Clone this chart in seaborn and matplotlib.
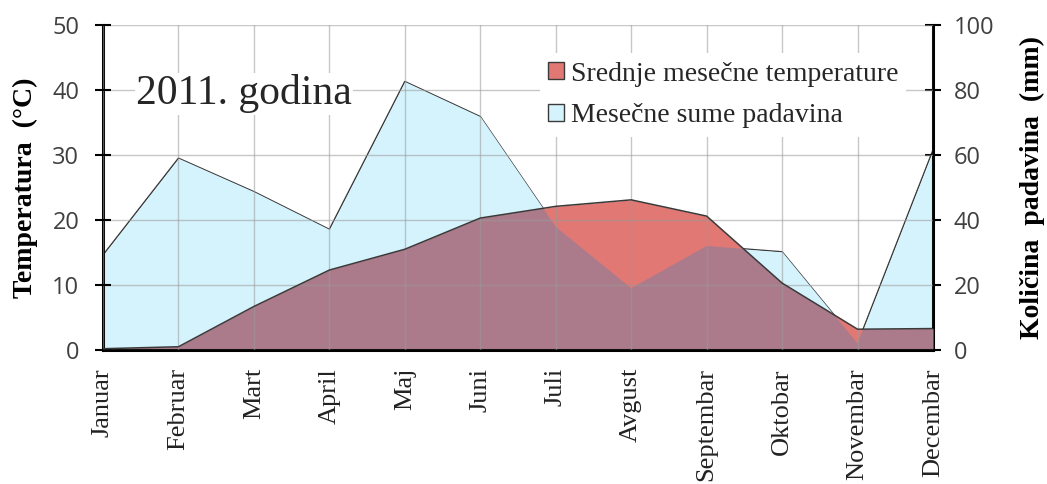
import numpy as np
import pandas as pd
import matplotlib
matplotlib.use("Agg")
import matplotlib.pyplot as plt
from matplotlib.patches import PathPatch, Patch
import seaborn as sns

months = ["Januar", "Februar", "Mart", "April", "Maj", "Juni", "Juli",
          "Avgust", "Septembar", "Oktobar", "Novembar", "Decembar"]
temperature = [0.2, 0.5, 6.7, 12.3, 15.5, 20.3, 22.1, 23.1, 20.6, 10.3, 3.2, 3.3]
precipitation = [29.2, 59.0, 48.7, 37.1, 82.6, 71.8, 37.9, 19.0, 32.0, 30.2, 2.0, 61.5]

df = pd.DataFrame({"mesec": months, "x": np.arange(len(months)),
                   "temp": temperature, "prec": precipitation})

sns.set_theme(style="white")
plt.rcParams["font.family"] = ["DejaVu Sans"]

BLUE = "#d5f3fd"
RED = "#e17873"
PURPLE = "#ab7b8c"
EDGE = "#3a3a3a"
GRID = "#9a9a9a"
TICKC = "#404040"

fig = plt.figure(figsize=(10.47, 4.84), dpi=100)
ax = fig.add_axes([103/1047, 1-350/484, (933-103)/1047, (350-25)/484])
ax2 = ax.twinx()
ax.set_zorder(ax2.get_zorder() + 1)
ax.patch.set_visible(False)

x = df["x"].to_numpy()
blue = ax2.fill_between(x, 0, df["prec"], color=BLUE, lw=0)
ax.fill_between(x, 0, df["temp"], color=RED, lw=0)
purple = ax.fill_between(x, 0, df["temp"], color=PURPLE, lw=0)
clip = PathPatch(blue.get_paths()[0], transform=ax2.transData, fc="none", ec="none")
ax2.add_patch(clip)
purple.set_clip_path(clip)

sns.lineplot(data=df, x="x", y="prec", ax=ax2, color=EDGE, lw=1.1, zorder=0)
sns.lineplot(data=df, x="x", y="temp", ax=ax, color=EDGE, lw=1.1, zorder=3)

ax.set_xlim(0, len(months) - 1)
ax.set_ylim(0, 50)
ax2.set_ylim(0, 100)
ax.set_yticks(np.arange(0, 51, 10))
ax2.set_yticks(np.arange(0, 101, 20))
ax.set_xticks(x)
ax.set_xticklabels(months, rotation=90, family="Liberation Serif", fontsize=19,
                   color="#222222", va="top", ha="center")
ax.tick_params(axis="y", labelsize=17, labelcolor=TICKC, direction="inout", length=12,
               width=1.5, color="black", pad=11)
ax2.tick_params(axis="y", labelsize=17, labelcolor=TICKC, direction="inout", length=12,
                width=1.5, color="black", pad=9)
ax.tick_params(axis="x", direction="inout", length=12, width=1.5, color="black", pad=7)
for lab in ax.get_yticklabels() + ax2.get_yticklabels():
    lab.set_family("Open Sans")

ax.grid(True, color=GRID, lw=1.0, alpha=0.55, zorder=2.5)
ax.set_axisbelow(False)
for a in (ax, ax2):
    for s in a.spines.values():
        s.set_visible(False)
ax.spines["left"].set_visible(True)
ax.spines["bottom"].set_visible(True)
ax2.spines["right"].set_visible(True)
for s in (ax.spines["left"], ax.spines["bottom"], ax2.spines["right"]):
    s.set_color("black")
    s.set_linewidth(2.2)

ax.set_xlabel("")
ax.set_ylabel("Temperatura  (°C)", family="Liberation Serif", fontweight="bold",
              fontsize=20, color="black", labelpad=10)
ax2.set_ylabel("Količina  padavina  (mm)", family="Liberation Serif", fontweight="bold",
               fontsize=20, color="black", labelpad=18)

ax.text(0.44, 39.4, "2011. godina", family="Liberation Serif", fontsize=30,
        va="center", ha="left", zorder=6,
        bbox=dict(fc="white", ec="none", pad=1))

handles = [Patch(fc=RED, ec=EDGE, lw=1.0), Patch(fc=BLUE, ec=EDGE, lw=1.0)]
leg = ax.legend(handles, ["Srednje mesečne temperature", "Mesečne sume padavina"],
                loc="upper left", bbox_to_anchor=(0.5265, 0.913), borderaxespad=0,
                frameon=True, facecolor="white", edgecolor="none", framealpha=1,
                fancybox=False, prop=dict(family="Liberation Serif", size=20),
                handlelength=0.55, handleheight=0.55, handletextpad=0.25,
                labelspacing=0.6, borderpad=0.3)
leg.set_zorder(7)

fig.savefig("out.png", dpi=100)
